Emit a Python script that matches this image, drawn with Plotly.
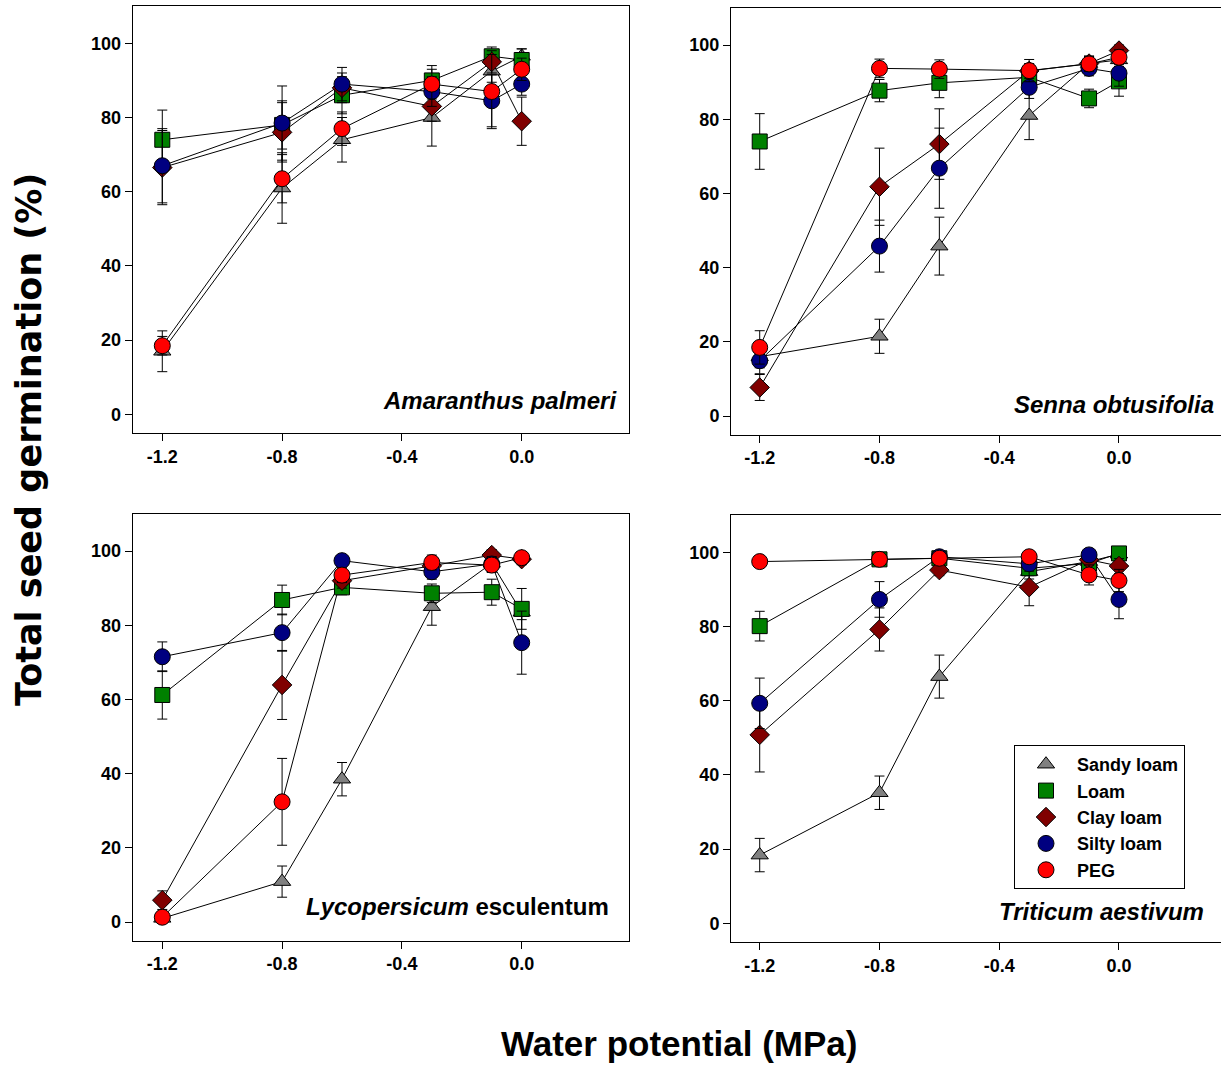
import plotly.graph_objects as go

# ---------------- data ----------------
water_potential = [-1.2, -0.8, -0.6, -0.3, -0.1, 0.0]
series_names = ["Sandy loam", "Loam", "Clay loam", "Silty loam", "PEG"]

# Amaranthus palmeri
ama_sandy = [17, 61, 74, 80, 92.5, 96.5]
ama_sandy_err = [5.5, 9.5, 6, 7.7, 3, 2]
ama_loam = [74, 78, 86, 90, 96.5, 95.5]
ama_loam_err = [8, 6.5, 5, 4, 2.5, 3]
ama_clay = [66.5, 76, 88, 83, 95, 79]
ama_clay_err = [10, 8, 4, 4, 3, 6.5]
ama_silty = [67, 78.5, 89, 87, 84.5, 89]
ama_silty_err = [10, 10, 4.5, 4, 7, 3]
ama_peg = [18.5, 63.5, 77, 89, 87, 93]
ama_peg_err = [2.5, 6.5, 4.5, 4, 10, 3]

# Senna obtusifolia
sen_sandy = [16, 21.5, 45.8, 81, 95, 96]
sen_sandy_err = [3, 4.6, 7.8, 6.5, 2, 2]
sen_loam = [74, 87.7, 89.8, 91.3, 85.6, 90.2]
sen_loam_err = [7.5, 3, 4, 2, 2.5, 4]
sen_clay = [7.7, 61.8, 73.3, 93, 95, 98.5]
sen_clay_err = [3.5, 10.4, 9.5, 2, 2, 1.5]
sen_silty = [14.9, 45.8, 66.8, 88.6, 93.7, 92.4]
sen_silty_err = [3.5, 7, 10.8, 3, 2, 3.5]
sen_peg = [18.5, 93.7, 93.5, 93.1, 94.9, 96.7]
sen_peg_err = [4.5, 2.5, 2.5, 3, 2, 2]

# Lycopersicum esculentum
lyc_sandy = [1, 10.9, 38.5, 85, 96.7, 83.5]
lyc_sandy_err = [1, 4.2, 4.5, 5, 2, 2]
lyc_loam = [61.2, 86.8, 90.2, 88.6, 88.9, 84.4]
lyc_loam_err = [6.5, 4, 2, 2.5, 3.5, 5.5]
lyc_clay = [5.9, 63.9, 92, 96, 98.9, 97.8]
lyc_clay_err = [2.5, 9.3, 2, 2, 1.5, 1.5]
lyc_silty = [71.5, 78, 97.4, 94.4, 96.5, 75.3]
lyc_silty_err = [4, 5, 1.5, 2, 2, 8.5]
lyc_peg = [1.3, 32.4, 93.5, 96.9, 96.2, 98.2]
lyc_peg_err = [1, 11.7, 2, 2, 2, 1.5]

# Triticum aestivum
tri_sandy = [18.4, 35.2, 66.5, 94.8, 97.5, 99.5]
tri_sandy_err = [4.5, 4.5, 5.8, 2, 1.5, 1]
tri_loam = [80.1, 98.1, 98.4, 95.7, 97, 99.7]
tri_loam_err = [4, 1, 1, 2, 2, 1]
tri_clay = [50.8, 79.2, 95.2, 90.6, 98, 96.3]
tri_clay_err = [10, 5.8, 1.5, 5, 1.5, 2]
tri_silty = [59.3, 87.3, 98.8, 96.9, 99.3, 87.3]
tri_silty_err = [6.8, 4.8, 1, 2, 1, 5.2]
tri_peg = [97.5, 98.1, 98.4, 98.8, 93.9, 92.4]
tri_peg_err = [1, 1, 1, 1, 2.7, 3]

x_tickvals = [-1.2, -0.8, -0.4, 0.0]
x_ticktext = ["-1.2", "-0.8", "-0.4", "0.0"]
y_tickvals = [0, 20, 40, 60, 80, 100]

panel_labels = ["<i>Amaranthus palmeri</i>", "<i>Senna obtusifolia</i>",
                "<i>Lycopersicum</i> esculentum", "<i>Triticum aestivum</i>"]

panels = [
    [(ama_sandy, ama_sandy_err), (ama_loam, ama_loam_err), (ama_clay, ama_clay_err),
     (ama_silty, ama_silty_err), (ama_peg, ama_peg_err)],
    [(sen_sandy, sen_sandy_err), (sen_loam, sen_loam_err), (sen_clay, sen_clay_err),
     (sen_silty, sen_silty_err), (sen_peg, sen_peg_err)],
    [(lyc_sandy, lyc_sandy_err), (lyc_loam, lyc_loam_err), (lyc_clay, lyc_clay_err),
     (lyc_silty, lyc_silty_err), (lyc_peg, lyc_peg_err)],
    [(tri_sandy, tri_sandy_err), (tri_loam, tri_loam_err), (tri_clay, tri_clay_err),
     (tri_silty, tri_silty_err), (tri_peg, tri_peg_err)],
]

# ---------------- styling ----------------
W, H = 1221, 1065
FONT = "Arial, 'Liberation Sans', sans-serif"
WIDE_FONT = "'DejaVu Sans', Arial, sans-serif"
symbols = ["triangle-up", "square", "diamond", "circle", "circle"]
colors = ["#808080", "#008000", "#800000", "#000080", "#FF0000"]
sizes = [15, 15, 15, 16, 16]

# pixel geometry of each panel: (left, right, top, bottom, xmin, xmax)
geom = [
    (132.7, 629.0, 6.2, 432.9, -1.2988, 0.3583),
    (731.0, 1221.0, 7.9, 434.6, -1.2959, 0.3407),
    (132.7, 629.0, 513.9, 940.6, -1.2988, 0.3583),
    (731.0, 1221.0, 515.2, 941.9, -1.2959, 0.3407),
]

fig = go.Figure()

# lines first
for p, data in enumerate(panels):
    xa = "x" if p == 0 else f"x{p+1}"
    ya = "y" if p == 0 else f"y{p+1}"
    for s, (vals, errs) in enumerate(data):
        fig.add_trace(go.Scatter(
            x=water_potential, y=vals, mode="lines",
            line=dict(color="black", width=1),
            xaxis=xa, yaxis=ya, showlegend=False, hoverinfo="skip"))

# markers with error bars
for p, data in enumerate(panels):
    xa = "x" if p == 0 else f"x{p+1}"
    ya = "y" if p == 0 else f"y{p+1}"
    for s, (vals, errs) in enumerate(data):
        fig.add_trace(go.Scatter(
            x=water_potential, y=vals, mode="markers",
            name=series_names[s],
            marker=dict(symbol=symbols[s], size=sizes[s], color=colors[s],
                        line=dict(color="black", width=1)),
            error_y=dict(type="data", array=errs, visible=True,
                         color="black", thickness=1, width=5),
            xaxis=xa, yaxis=ya, showlegend=(p == 3)))

layout = dict(
    width=W, height=H, margin=dict(l=0, r=0, t=0, b=0),
    paper_bgcolor="white", plot_bgcolor="white",
    font=dict(family=FONT, color="black"),
    showlegend=True,
    legend=dict(x=1014 / W, y=1 - 745 / H, xanchor="left", yanchor="top",
                bordercolor="black", borderwidth=1, bgcolor="white",
                font=dict(family=FONT, size=18, weight="bold"),
                itemwidth=52, tracegroupgap=0),
)

for p, (l, r, t, b, xmin, xmax) in enumerate(geom):
    xk = "xaxis" if p == 0 else f"xaxis{p+1}"
    yk = "yaxis" if p == 0 else f"yaxis{p+1}"
    ya = "y" if p == 0 else f"y{p+1}"
    xa = "x" if p == 0 else f"x{p+1}"
    right_col = p in (1, 3)
    layout[xk] = dict(
        domain=[l / W, r / W], range=[xmin, xmax], anchor=ya,
        showline=True, linecolor="black", linewidth=1, mirror=True,
        ticks="outside", ticklen=7, tickwidth=1, tickcolor="black",
        tickvals=x_tickvals, ticktext=x_ticktext, showgrid=False, zeroline=False,
        tickfont=dict(family=FONT, size=18, weight="bold"))
    layout[yk] = dict(
        domain=[1 - b / H, 1 - t / H], range=[-5, 110], anchor=xa,
        showline=True, linecolor="black", linewidth=1, mirror=not right_col,
        ticks="outside", ticklen=7, tickwidth=1, tickcolor="black",
        tickvals=y_tickvals, showgrid=False, zeroline=False,
        tickfont=dict(family=FONT, size=18, weight="bold"))

fig.update_layout(**layout)

# panel labels
label_pos = [(619, 400), (1216, 405), (611, 906), (1206, 911)]
for (px, py), txt in zip(label_pos, panel_labels):
    fig.add_annotation(x=px / W, y=1 - py / H, xref="paper", yref="paper",
                       xanchor="right", yanchor="middle", text=txt, showarrow=False,
                       font=dict(family=FONT, size=24, weight="bold"))

# axis titles
fig.add_annotation(x=679 / W, y=1 - 1043 / H, xref="paper", yref="paper",
                   xanchor="center", yanchor="middle", text="Water potential (MPa)",
                   showarrow=False, font=dict(family=FONT, size=35, weight="bold"))
fig.add_annotation(x=29 / W, y=1 - 440 / H, xref="paper", yref="paper",
                   xanchor="center", yanchor="middle", text="Total seed germination (%)",
                   textangle=-90, showarrow=False,
                   font=dict(family=WIDE_FONT, size=35, weight="bold"))

fig.write_html("out.html")
